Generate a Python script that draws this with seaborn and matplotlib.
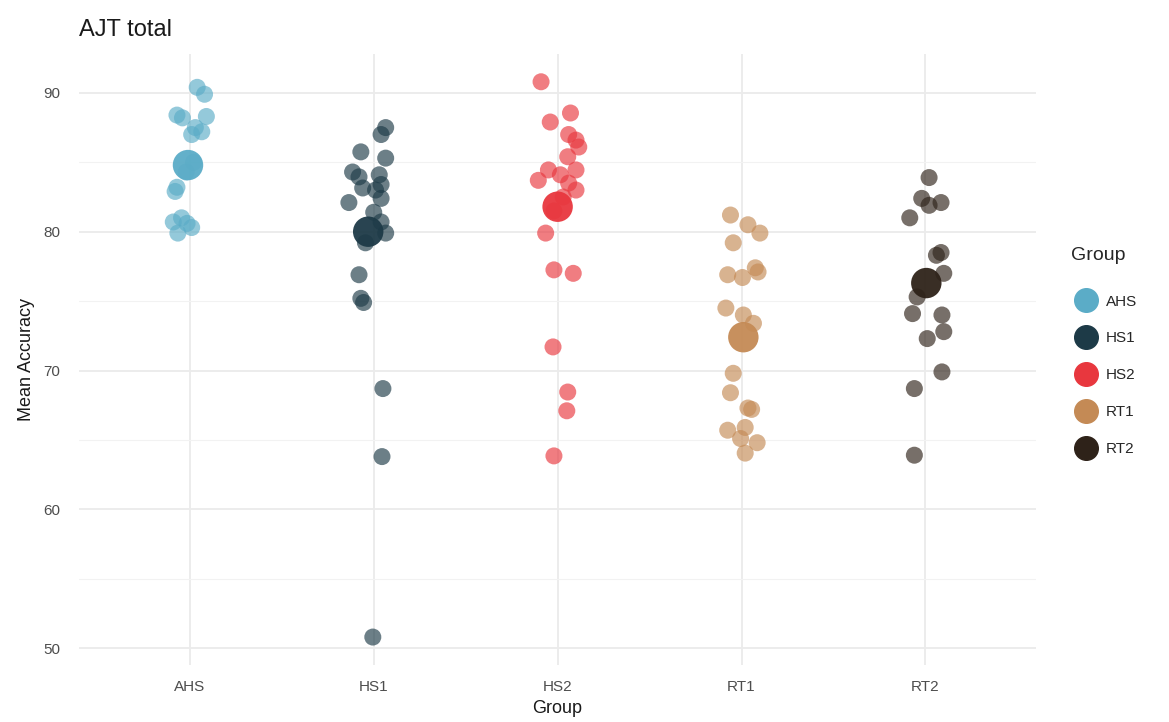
import numpy as np
import pandas as pd
import matplotlib.pyplot as plt
import seaborn as sns
from matplotlib.lines import Line2D
from matplotlib.ticker import MultipleLocator

# ── Data ───────────────────────────────────────────────────────────────────────
GROUPS = ["AHS", "HS1", "HS2", "RT1", "RT2"]
COLORS = ["#5BACC7", "#1D3A47", "#E8373E", "#C48A55", "#2E2219"]

# individual participants: accuracy + horizontal jitter (category units)
AHS_Y  = [90.4, 89.9, 88.4, 88.2, 88.3, 87.5, 87.0, 87.2, 84.3, 85.0, 83.2, 82.9,
          80.7, 81.0, 80.3, 79.9, 80.6]
AHS_DX = [0.04, 0.08, -0.07, -0.04, 0.09, 0.03, 0.01, 0.065, -0.02, 0.02, -0.07, -0.08,
          -0.09, -0.045, 0.01, -0.065, -0.015]

HS1_Y  = [87.5, 87.0, 85.75, 85.3, 84.3, 83.95, 84.1, 83.15, 83.0, 83.4, 82.1, 82.4,
          81.4, 80.7, 79.9, 79.2, 76.9, 75.2, 74.9, 68.7, 63.8, 50.8]
HS1_DX = [0.065, 0.04, -0.07, 0.065, -0.115, -0.08, 0.03, -0.06, 0.01, 0.04, -0.135, 0.04,
          0.0, 0.04, 0.065, -0.045, -0.08, -0.07, -0.055, 0.05, 0.045, -0.005]

HS2_Y  = [90.8, 88.55, 87.9, 87.0, 86.6, 86.1, 85.4, 84.45, 84.45, 84.1, 83.7, 83.5,
          83.0, 82.5, 81.5, 79.9, 77.25, 77.0, 71.7, 68.45, 67.1, 63.85]
HS2_DX = [-0.09, 0.07, -0.04, 0.06, 0.1, 0.115, 0.055, 0.1, -0.05, 0.015, -0.105, 0.06,
          0.1, 0.03, -0.02, -0.065, -0.02, 0.085, -0.025, 0.055, 0.05, -0.02]

RT1_Y  = [81.2, 80.5, 79.9, 79.2, 76.9, 76.7, 77.4, 77.1, 74.5, 74.0, 73.4, 69.8,
          68.4, 67.3, 67.2, 65.7, 65.9, 65.1, 64.8, 64.05]
RT1_DX = [-0.06, 0.035, 0.1, -0.045, -0.075, 0.005, 0.075, 0.09, -0.085, 0.01, 0.065, -0.045,
          -0.06, 0.035, 0.055, -0.075, 0.02, -0.005, 0.085, 0.02]

RT2_Y  = [83.9, 82.4, 81.9, 82.1, 81.0, 78.3, 78.5, 77.0, 75.3, 74.1, 74.0, 72.8,
          72.3, 69.9, 68.7, 63.9]
RT2_DX = [0.02, -0.02, 0.02, 0.085, -0.085, 0.06, 0.085, 0.1, -0.045, -0.07, 0.09, 0.1,
          0.01, 0.09, -0.06, -0.06]

# group means (large points)
MEANS   = [84.8, 80.0, 81.8, 72.4, 76.3]
MEAN_DX = [-0.01, -0.03, 0.0, 0.01, 0.005]

# ── Frames ─────────────────────────────────────────────────────────────────────
rows = []
for i, (g, ys, dxs) in enumerate(zip(GROUPS,
                                     [AHS_Y, HS1_Y, HS2_Y, RT1_Y, RT2_Y],
                                     [AHS_DX, HS1_DX, HS2_DX, RT1_DX, RT2_DX])):
    for y, dx in zip(ys, dxs):
        rows.append({"Group": g, "pos": i + dx, "acc": y})
df = pd.DataFrame(rows)
means = pd.DataFrame({"Group": GROUPS,
                      "pos": np.arange(len(GROUPS)) + np.array(MEAN_DX),
                      "acc": MEANS})
pal = dict(zip(GROUPS, COLORS))

# ── Plot ───────────────────────────────────────────────────────────────────────
sns.set_theme(style="white")
plt.rcParams["font.family"] = ["Liberation Sans", "DejaVu Sans"]

fig = plt.figure(figsize=(11.69, 7.22), dpi=100)
ax = fig.add_axes([0.068, 0.079, 0.818, 0.846])

sns.scatterplot(data=df, x="pos", y="acc", hue="Group", palette=pal, s=150,
                alpha=0.65, edgecolor="none", legend=False, ax=ax, zorder=3)
sns.scatterplot(data=means, x="pos", y="acc", hue="Group", palette=pal, s=480,
                alpha=0.95, edgecolor="none", legend=False, ax=ax, zorder=4)

ax.set_xlim(-0.6, 4.6)
ax.set_ylim(48.79, 92.79)
ax.set_xticks(range(len(GROUPS)))
ax.set_xticklabels(GROUPS)
ax.yaxis.set_major_locator(MultipleLocator(10))
ax.yaxis.set_minor_locator(MultipleLocator(5))

ax.grid(axis="x", which="major", color="#EBEBEB", lw=1.3, zorder=0)
ax.grid(axis="y", which="major", color="#EBEBEB", lw=1.3, zorder=0)
ax.grid(axis="y", which="minor", color="#F2F2F2", lw=0.8, zorder=0)
ax.set_axisbelow(True)
sns.despine(ax=ax, left=True, bottom=True)

ax.tick_params(axis="both", which="both", length=0, labelsize=11, labelcolor="#4D4D4D")
ax.tick_params(axis="x", pad=11)
ax.tick_params(axis="y", pad=14)
ax.set_xlabel("Group", fontsize=13, color="#1A1A1A", labelpad=4)
ax.set_ylabel("Mean Accuracy", fontsize=13, color="#1A1A1A", labelpad=6)

fig.text(0.068, 0.958, "AJT total", fontsize=17, color="#1A1A1A", va="center")

handles = [Line2D([], [], marker="o", ls="", color=c, markersize=17) for c in COLORS]
leg = ax.legend(handles, GROUPS, title="Group", loc="center left",
                bbox_to_anchor=(1.03, 0.513), frameon=False, fontsize=11,
                title_fontsize=14, labelspacing=1.5, handletextpad=0.3,
                borderaxespad=0)
leg._legend_box.align = "left"
leg._legend_box.sep = 22

fig.savefig("out.png", dpi=100)
